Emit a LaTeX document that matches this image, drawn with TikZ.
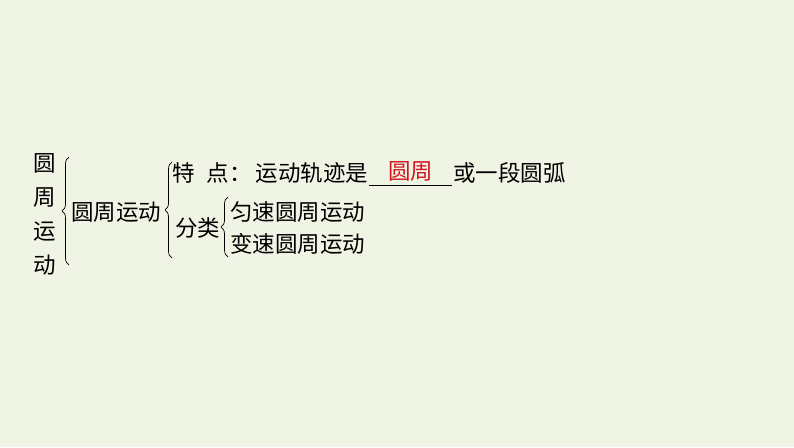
\documentclass[tikz,border=0pt]{standalone}
\usepackage{fontspec}
\setmainfont{Liberation Serif}
\newfontfamily\cjk{Noto Sans CJK SC}
\usetikzlibrary{decorations.pathreplacing}
\definecolor{bgcol}{RGB}{239,244,229}
\definecolor{redtxt}{RGB}{210,20,30}
\begin{document}
\begin{tikzpicture}[x=1pt,y=1pt,
  txt/.style={inner sep=0pt,anchor=west,font=\cjk\fontsize{22.5}{27}\selectfont},
  bracestyle/.style={decorate,decoration={brace,amplitude=7pt},line width=0.7pt}]
\fill[bgcol] (0,0) rectangle (794,447);
\useasboundingbox (0,0) rectangle (794,447);
\node[inner sep=0pt,align=center,font=\cjk\fontsize{22.5}{34}\selectfont] (title) at (45,233) {圆\\周\\运\\动};
\node[txt] (main) at (71,235) {圆周运动};
\node[txt] (feat) at (172,274) {特\hspace{12pt}点：\hspace{4pt}运动轨迹是};
\node[txt,font=\cjk\fontsize{22.5}{27}\selectfont\color{redtxt}] (ans) at (388,276) {圆周};
\node[txt] (rest) at (453,274) {或一段圆弧};
\node[txt] (cls) at (175,219) {分类};
\node[txt] (uni) at (230,235) {匀速圆周运动};
\node[txt] (var) at (230,203) {变速圆周运动};
\coordinate (u1) at (369,262);
\coordinate (u2) at (452,262);
\draw[line width=0.8pt] (u1) -- (u2);
\coordinate (b1s) at (69,182); \coordinate (b1e) at (69,290);
\coordinate (b2s) at (172,189); \coordinate (b2e) at (172,285);
\coordinate (b3s) at (228,190); \coordinate (b3e) at (228,250);
\draw[bracestyle] (b1s) -- (b1e);
\draw[bracestyle] (b2s) -- (b2e);
\draw[bracestyle] (b3s) -- (b3e);
\end{tikzpicture}
\end{document}
